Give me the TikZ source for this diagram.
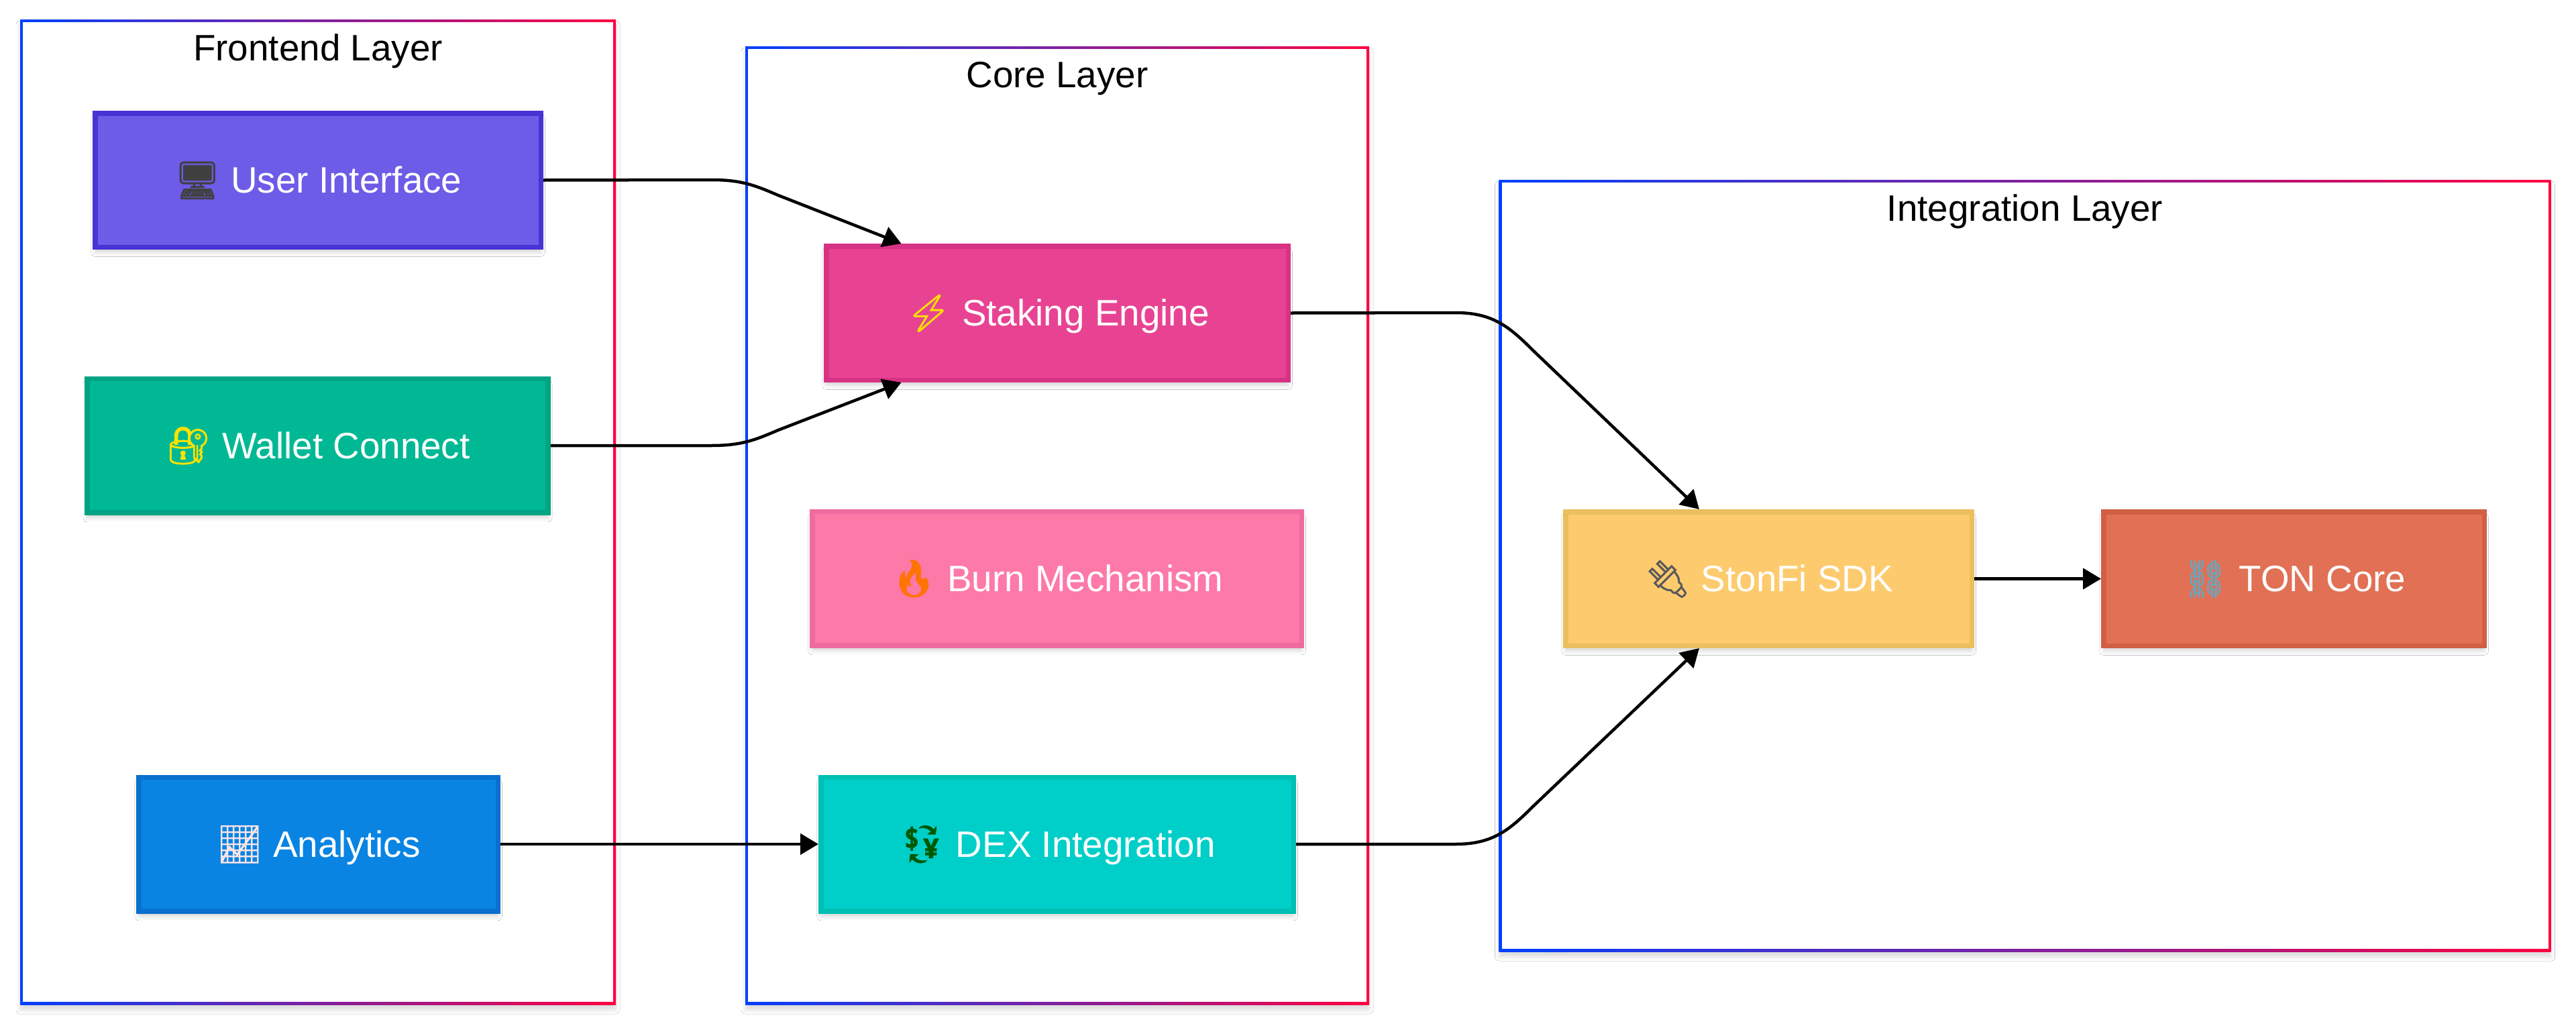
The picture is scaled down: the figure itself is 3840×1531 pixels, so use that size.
\documentclass[tikz,border=0pt]{standalone}
\usepackage{fontspec}
\setmainfont{Liberation Sans}
\newfontfamily\emofont[FakeBold=1.5]{Noto Emoji}
\usetikzlibrary{arrows.meta,shadows.blur}

\definecolor{frameblue}{HTML}{0040FF}
\definecolor{framered}{HTML}{FF0040}
\definecolor{uifill}{HTML}{6C5CE7}
\definecolor{uiline}{HTML}{4834D4}
\definecolor{walletfill}{HTML}{00B894}
\definecolor{walletline}{HTML}{00A383}
\definecolor{chartfill}{HTML}{0984E3}
\definecolor{chartline}{HTML}{0A6FCF}
\definecolor{stakefill}{HTML}{E84393}
\definecolor{stakeline}{HTML}{D63384}
\definecolor{burnfill}{HTML}{FD79A8}
\definecolor{burnline}{HTML}{EE6BA0}
\definecolor{dexfill}{HTML}{00CEC9}
\definecolor{dexline}{HTML}{00BFB3}
\definecolor{sdkfill}{HTML}{FDCB6E}
\definecolor{sdkline}{HTML}{EBBE5E}
\definecolor{tonfill}{HTML}{E17055}
\definecolor{tonline}{HTML}{D15F44}

\newcommand{\emo}[2]{{\emofont\color{#1}#2}}

\tikzset{
    layerframe/.style={inner sep=0pt, shade, shading angle=90, left color=frameblue, right color=framered,
        blur shadow={shadow xshift=0pt, shadow yshift=-8pt, shadow blur radius=6pt, shadow opacity=14}},
    layerinner/.style={inner sep=0pt, fill=white},
    layertitle/.style={inner sep=0pt, text=black, text height=50pt, text depth=12pt,
        font=\fontsize{54.8}{60}\selectfont},
    servicebox/.style={inner sep=0pt, line width=7.5pt, text=white, text height=50pt, text depth=12pt,
        font=\fontsize{54.8}{60}\selectfont,
        blur shadow={shadow xshift=0pt, shadow yshift=-8pt, shadow blur radius=6pt, shadow opacity=16}},
    flowline/.style={line width=4.5pt, ->}
}

\begin{document}
\begin{tikzpicture}[>={Triangle[length=27pt,width=31pt]}, x=1pt, y=-1pt]
    \path[use as bounding box, fill=white] (0,0) rectangle (3840,1531);

    % Draw the three layer frames
    \node[layerframe, minimum width=888pt, minimum height=1468pt] (frontendframe) at (474,763) {};
    \node[layerinner, minimum width=880pt, minimum height=1460pt] (frontendinner) at (474,763) {};
    \node[layerframe, minimum width=930pt, minimum height=1428pt] (coreframe) at (1576,783) {};
    \node[layerinner, minimum width=922pt, minimum height=1420pt] (coreinner) at (1576,783) {};
    \node[layerframe, minimum width=1568pt, minimum height=1150pt] (integrationframe) at (3018.5,843) {};
    \node[layerinner, minimum width=1560pt, minimum height=1142pt] (integrationinner) at (3018.5,843) {};

    % Label the layers
    \node[layertitle] (frontendtitle) at (474,71.5) {Frontend Layer};
    \node[layertitle] (coretitle) at (1576,111.5) {Core Layer};
    \node[layertitle] (integrationtitle) at (3018.5,310) {Integration Layer};

    % Frontend services
    \node[servicebox, draw=uiline, fill=uifill, minimum width=664.5pt, minimum height=199.5pt] (ui) at (474,268.5)
        {\emo{black!75}{🖥} User Interface};
    \node[servicebox, draw=walletline, fill=walletfill, minimum width=687pt, minimum height=199.5pt] (wallet) at (473.5,664)
        {\emo{yellow!85!orange}{🔐} Wallet Connect};
    \node[servicebox, draw=chartline, fill=chartfill, minimum width=535.5pt, minimum height=199.5pt] (analytics) at (474.5,1258)
        {\emo{white!90!red}{📈} Analytics};

    % Core services
    \node[servicebox, draw=stakeline, fill=stakefill, minimum width=688.5pt, minimum height=199.5pt] (staking) at (1576,466.5)
        {\emo{yellow!85!orange}{⚡} Staking Engine};
    \node[servicebox, draw=burnline, fill=burnfill, minimum width=729.5pt, minimum height=199.5pt] (burn) at (1575.5,862)
        {\emo{orange!90!red}{🔥} Burn Mechanism};
    \node[servicebox, draw=dexline, fill=dexfill, minimum width=704.5pt, minimum height=199.5pt] (dex) at (1576,1258)
        {\emo{black!65!green}{💱} DEX Integration};

    % Integration services
    \node[servicebox, draw=sdkline, fill=sdkfill, minimum width=605.5pt, minimum height=199.5pt] (sdk) at (2636.5,862.5)
        {\emo{black!65}{🔌} StonFi SDK};
    \node[servicebox, draw=tonline, fill=tonfill, minimum width=567.5pt, minimum height=199.5pt] (ton) at (3419.5,862.5)
        {\emo{cyan!45!gray}{⛓} TON Core};

    % Draw the arrows between services
    \draw[flowline] (ui.east) -- (1060,268) .. controls (1105,268) and (1125,276) .. (1160,291) -- (staking.156.8);
    \draw[flowline] (wallet.east) -- (1060,664) .. controls (1105,664) and (1125,656) .. (1160,641) -- (staking.-156.8);
    \draw[flowline] (analytics.east) -- (dex.west);
    \draw[flowline] (staking.east) -- (2170,466) .. controls (2225,466) and (2250,487) .. (2285,522) -- (sdk.135.2);
    \draw[flowline] (dex.east) -- (2170,1258) .. controls (2225,1258) and (2250,1237) .. (2285,1202) -- (sdk.-135.2);
    \draw[flowline] (sdk.east) -- (ton.west);
\end{tikzpicture}
\end{document}
